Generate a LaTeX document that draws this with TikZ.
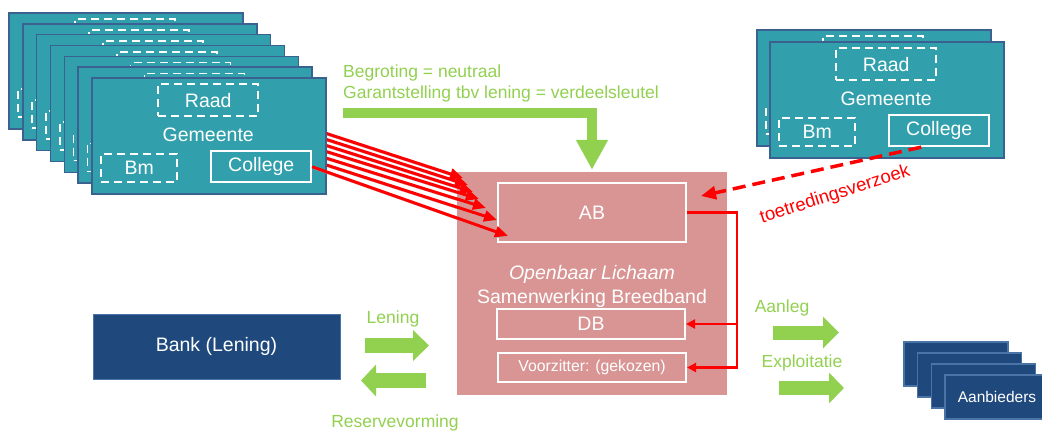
\documentclass[tikz,border=0pt]{standalone}
\usepackage{fontspec}
\setmainfont{Liberation Sans}
\usetikzlibrary{arrows.meta,calc}
\definecolor{tealc}{HTML}{31A0AC}
\definecolor{cardline}{HTML}{3B6190}
\definecolor{olpink}{HTML}{D99594}
\definecolor{grn}{HTML}{92D050}
\definecolor{bankblue}{HTML}{1F497D}
\definecolor{bankline}{HTML}{4A73A6}
\pgfdeclarelayer{bg}\pgfdeclarelayer{mid}\pgfdeclarelayer{top}
\pgfsetlayers{bg,mid,main,top}
\newcommand{\cardfont}{\fontsize{19.5}{23}\selectfont}
\newcommand{\grnfont}{\fontsize{17.5}{21}\selectfont}
\tikzset{
  card/.style={draw=cardline, line width=1.5pt, fill=tealc, minimum width=234pt, minimum height=116pt, inner sep=0pt},
  dbox/.style={draw=white, dash pattern=on 8pt off 5pt, line width=1.8pt, text=white, inner sep=0pt, font=\cardfont},
  sbox/.style={draw=white, line width=1.8pt, text=white, inner sep=0pt, font=\cardfont},
  lbl/.style={text=white, inner sep=0pt, font=\cardfont},
  wbox/.style={draw=white, line width=2pt, text=white, inner sep=0pt, font=\cardfont, minimum width=188pt},
  gtxt/.style={text=grn, inner sep=0pt, font=\grnfont},
  redarr/.style={draw=red, line width=3pt, -{Triangle[length=13pt,width=11pt]},
    preaction={draw=black!30, transform canvas={shift={(1pt,-2pt)}}}},
  rline/.style={draw=red, line width=2.5pt},
  abox/.style={fill=bankblue, draw=bankline, line width=1.2pt, minimum width=104pt, minimum height=44pt, inner sep=0pt, text=white, font=\fontsize{15.5}{18}\selectfont}
}
% card: #1 name, #2 x, #3 y (top-left), #4 = 1 with texts
\newcommand{\gcard}[4]{%
  \node[card] (#1) at ($(#2,#3)+(117,58)$) {};
  \node[dbox, minimum width=100pt, minimum height=32pt] (#1-R) at ($(#1.north west)+(117,23)$) {\ifnum#4=1 Raad\fi};
  \ifnum#4=1 \node[lbl] (#1-G) at ($(#1.north west)+(117,58)$) {Gemeente};\fi
  \node[dbox, minimum width=76pt, minimum height=28pt] (#1-B) at ($(#1.north west)+(48,91)$) {\ifnum#4=1 Bm\fi};
  \node[sbox, minimum width=100pt, minimum height=31pt] (#1-C) at ($(#1.north west)+(170,89.5)$) {\ifnum#4=1 College\fi};
}
\begin{document}
\begin{tikzpicture}[x=1pt,y=-1pt]
\useasboundingbox (0,0) rectangle (1042,432);

% Openbaar Lichaam
\begin{pgfonlayer}{bg}
\node[fill=olpink, minimum width=270pt, minimum height=223pt, inner sep=0pt] (OL) at (592,283.5) {};
\node[wbox, minimum height=59pt] (AB) at (592,212.5) {AB};
\node[wbox, minimum height=30pt] (DB) at (591,324) {DB};
\node[wbox, minimum height=29pt, font=\fontsize{15.8}{18}\selectfont] (VZ) at (592,367.5) {Voorzitter: (gekozen)};
\node[lbl, align=center, font=\fontsize{19.5}{24}\selectfont] (OLt) at (592,286) {\textit{Openbaar Lichaam}\\Samenwerking Breedband};
\end{pgfonlayer}

% left stack of Gemeente cards
\foreach \k in {0,...,5}{
  \pgfmathsetmacro\cx{9+13.83*\k}
  \pgfmathsetmacro\cy{13+10.83*\k}
  \gcard{L\k}{\cx}{\cy}{0}
}
\gcard{L6}{92}{78}{1}

% targets of the red arrows near AB
\coordinate (t0) at (463,178);
\coordinate (t1) at (468,185);
\coordinate (t2) at (473,192);
\coordinate (t3) at (479,199);
\coordinate (t4) at (486,208);
\coordinate (t5) at (497,220);
\coordinate (t6) at (508,236);
\begin{pgfonlayer}{mid}
\foreach \k in {0,...,5}{
  \draw[redarr] (L\k-C.east) -- (t\k);
}
\end{pgfonlayer}
\begin{pgfonlayer}{top}
\draw[redarr] (L6-C.east) -- (t6);
\end{pgfonlayer}

% right stack
\gcard{R0}{757}{30}{0}
\gcard{R1}{770}{42}{1}
\coordinate (jt) at ($(AB.north east)+(14,14)$);
\begin{pgfonlayer}{top}
\draw[draw=red, line width=3.5pt, dash pattern=on 13pt off 7pt, -{Triangle[length=15pt,width=13pt]}] ($(R1-C.south)+(-18,0)$) -- (jt);
\end{pgfonlayer}
\node[text=red, rotate=17.7, inner sep=0pt, font=\fontsize{18.5}{22}\selectfont] (tv) at (835,195) {toetredingsverzoek};

% green budget text and bent arrow
\node[gtxt, align=left, anchor=west] (bud) at (343,83) {Begroting = neutraal\\Garantstelling tbv lening = verdeelsleutel};
\coordinate (bstart) at (343,113);
\draw[draw=grn, line width=10pt, -{Triangle[length=30pt,width=30pt]}] (bstart) -- (592,113) -- ($(OL.north)+(0,-2)$);

% AB -> DB, Voorzitter
\coordinate (bus) at (737,212.5);
\draw[rline, -{Triangle[length=9pt,width=9pt]}] (AB.east) -- (bus) |- (VZ.east);
\draw[rline, -{Triangle[length=9pt,width=9pt]}] (bus |- DB.east) -- (DB.east);

% Bank
\node[fill=bankblue, draw=bankline, line width=1pt, minimum width=247pt, minimum height=65pt, inner sep=0pt, text=white, font=\cardfont] (bank) at (216.5,346.5) {Bank (Lening)};
\node[gtxt] (len) at (393,319) {Lening};
\node[gtxt] (res) at (395,423) {Reservevorming};
\coordinate (l1) at (365,345.5);
\coordinate (l2) at (429,345.5);
\coordinate (r1) at (426,380.5);
\coordinate (r2) at (361,380.5);
\draw[draw=grn, line width=15pt, -{Triangle[length=16pt,width=30pt]}] (l1) -- (l2);
\draw[draw=grn, line width=15pt, -{Triangle[length=15pt,width=31pt]}] (r1) -- (r2);

% Aanleg / Exploitatie
\node[gtxt] (aan) at (782,308) {Aanleg};
\node[gtxt] (exp) at (802,363) {Exploitatie};
\coordinate (a1) at (773,332.5);
\coordinate (a2) at (839,332.5);
\coordinate (e1) at (779,388);
\coordinate (e2) at (844,388);
\draw[draw=grn, line width=14pt, -{Triangle[length=16pt,width=31pt]}] (a1) -- (a2);
\draw[draw=grn, line width=14pt, -{Triangle[length=15pt,width=30pt]}] (e1) -- (e2);

% Aanbieders stack
\foreach \k in {0,1,2}{
  \node[abox] (A\k) at (956+13.7*\k,364+11*\k) {};
}
\node[abox] (A3) at (997,397) {Aanbieders};
\end{tikzpicture}
\end{document}
